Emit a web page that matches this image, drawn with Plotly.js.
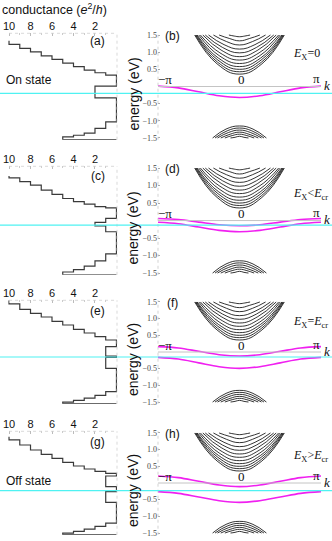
<!DOCTYPE html>
<html>
<head>
<meta charset="utf-8">
<script src="https://cdn.plot.ly/plotly-3.0.1.min.js"></script>
<style>
  html, body { margin: 0; padding: 0; background: #fff; }
  #chart { width: 332px; height: 541px; }
</style>
</head>
<body>
<div id="chart"></div>
<script>
// bulk subbands, same in every panel (energy in eV, k in units of pi)
const condBottom = [0.36, 0.43, 0.50, 0.58, 0.67, 0.77, 0.87, 0.98, 1.09, 1.21, 1.33, 1.45];
const condHalf   = [0.66, 0.71, 0.77, 0.83, 0.90, 0.98, 1.06, 1.14, 1.22, 1.31, 1.40, 1.47];
const condEdgeK  = [0.55, 0.54, 0.53, 0.52, 0.50, 0.48, 0.45, 0.42, 0.38, 0.32, 0.25, 0.13];
const valTop   = [-1.15, -1.21, -1.27, -1.33, -1.39, -1.45];
const valHalf  = [-1.24, -1.29, -1.34, -1.39, -1.43, -1.48];
const valEdgeK = [0.33, 0.30, 0.27, 0.23, 0.18, 0.11];

// edge states
const edgeK = [-1, -0.75, -0.5, -0.25, 0, 0.25, 0.5, 0.75, 1];
const edgeB  = [0.01, -0.04, -0.155, -0.27, -0.32, -0.27, -0.155, -0.04, 0.01];
const edgeD1 = [0.06, 0.03, -0.045, -0.12, -0.15, -0.12, -0.045, 0.03, 0.06];
const edgeD2 = [-0.05, -0.09, -0.185, -0.28, -0.32, -0.28, -0.185, -0.09, -0.05];
const edgeF1 = [0.16, 0.12, 0.02, -0.08, -0.12, -0.08, 0.02, 0.12, 0.16];
const edgeF2 = [-0.16, -0.21, -0.325, -0.44, -0.49, -0.44, -0.325, -0.21, -0.16];
const edgeH1 = [0.21, 0.16, 0.05, -0.06, -0.11, -0.06, 0.05, 0.16, 0.21];
const edgeH2 = [-0.26, -0.31, -0.42, -0.53, -0.58, -0.53, -0.42, -0.31, -0.26];

// Fermi level (cyan line)
const fermi = [-0.20, -0.13, -0.15, -0.23];

// conductance staircases: conductance value and the energy where that step starts
const topCond = [10, 9, 8, 7, 6, 5, 4, 3, 2, 1, 0];
const topEA = [1.33, 1.23, 1.11, 1.01, 0.89, 0.79, 0.68, 0.58, 0.48, 0.40, 0.33];
const topEC = [1.27, 1.22, 1.11, 1.01, 0.87, 0.75, 0.63, 0.54, 0.47, 0.40, 0.36];
const topEE = [1.55, 1.44, 1.28, 1.16, 1.05, 0.92, 0.81, 0.68, 0.57, 0.46, 0.36];
const topEG = [1.39, 1.29, 1.14, 0.99, 0.86, 0.74, 0.62, 0.51, 0.42, 0.35, 0.29];
const botCond = [1, 2, 3, 4, 5, 5, 0];
const botEA = [-1.03, -1.22, -1.36, -1.42, -1.47, -1.55, -1.55];
const botEC = [-0.95, -1.15, -1.30, -1.40, -1.47, -1.55, -1.55];
const botEE = [-1.19, -1.30, -1.38, -1.45, -1.50, -1.55, -1.55];
const botEG = [-1.20, -1.30, -1.38, -1.45, -1.50, -1.55, -1.55];
const gapCondA = [2, 0];          const gapEA = [0.01, -0.33];
const gapCondC = [1, 2, 1, 0];    const gapEC = [0.06, -0.05, -0.15, -0.32];
const gapCondE = [1, 0, 1, 0];    const gapEE = [0.16, -0.12, -0.16, -0.49];
const gapCondG = [1, 0, 1, 0];    const gapEG = [0.21, -0.11, -0.26, -0.58];

const panels = [
    { topE: topEA, gapC: gapCondA, gapE: gapEA, botE: botEA, edges: [edgeB], left: "(a)", right: "(b)",
      field: "<i>E</i><sub>X</sub>=0", state: "On state" },
    { topE: topEC, gapC: gapCondC, gapE: gapEC, botE: botEC, edges: [edgeD1, edgeD2], left: "(c)", right: "(d)",
      field: "<i>E</i><sub>X</sub>&lt;<i>E</i><sub>cr</sub>" },
    { topE: topEE, gapC: gapCondE, gapE: gapEE, botE: botEE, edges: [edgeF1, edgeF2], left: "(e)", right: "(f)",
      field: "<i>E</i><sub>X</sub>=<i>E</i><sub>cr</sub>" },
    { topE: topEG, gapC: gapCondG, gapE: gapEG, botE: botEG, edges: [edgeH1, edgeH2], left: "(g)", right: "(h)",
      field: "<i>E</i><sub>X</sub>&gt;<i>E</i><sub>cr</sub>", state: "Off state" },
];

const W = 332, H = 541;
const TOP = [33.3, 166.3, 300.3, 431.3];
const BOT = [139.7, 274.8, 403.7, 534.7];
const px = (x) => x / W;
const py = (y) => 1 - y / H;

const traces = [];
const layout = {
    width: W, height: H,
    margin: { l: 0, r: 0, t: 0, b: 0 },
    paper_bgcolor: "#fff",
    plot_bgcolor: "rgba(0,0,0,0)",
    showlegend: false,
    shapes: [],
    annotations: [],
};

function note(text, x, y, extra) {
    return Object.assign({
        text: text, x: px(x), y: py(y), xref: "paper", yref: "paper",
        showarrow: false, xanchor: "center", yanchor: "middle",
        font: { family: "Liberation Sans, Arial", size: 12, color: "#111" },
    }, extra || {});
}

layout.annotations.push(note("conductance (<i>e</i><sup>2</sup>/<i>h</i>)", 0, 9,
    { xanchor: "left", font: { family: "Liberation Sans, Arial", size: 12.5, color: "#111" } }));

panels.forEach((p, i) => {
    const nl = 2 * i + 1, nr = 2 * i + 2;
    const dom = [py(BOT[i]), py(TOP[i])];
    const zero = (TOP[i] + BOT[i]) / 2;

    layout["xaxis" + nl] = {
        domain: [0, px(117)], range: [10.84, -0.05], anchor: "y" + nl, side: "top",
        tickvals: [10, 8, 6, 4, 2], ticks: "inside", ticklen: 3, tickcolor: "#bbb",
        minor: { tickvals: [9, 7, 5, 3, 1], ticks: "inside", ticklen: 2, tickcolor: "#ccc" },
        showgrid: false, zeroline: false, showline: false,
        tickfont: { family: "Liberation Sans, Arial", size: 11, color: "#111" },
    };
    layout["yaxis" + nl] = { domain: dom, range: [-1.55, 1.55], anchor: "x" + nl, visible: false };
    layout["xaxis" + nr] = {
        domain: [px(158), px(321)], range: [-1, 1], anchor: "y" + nr, visible: false,
    };
    layout["yaxis" + nr] = {
        domain: dom, range: [-1.55, 1.55], anchor: "x" + nr, side: "left",
        tickvals: [1.5, 1, 0.5, -0.5, -1, -1.5],
        ticktext: ["1.5", "1.0", "0.5", "\u22120.5", "\u22121.0", "\u22121.5"],
        ticks: "inside", ticklen: 2, tickcolor: "#aaa",
        showgrid: false, zeroline: false, showline: false,
        tickfont: { family: "Liberation Serif, serif", size: 8, color: "#444" },
    };

    // staircase
    const cs = topCond.concat(p.gapC, botCond);
    const es = p.topE.concat(p.gapE, p.botE);
    traces.push({
        x: cs, y: es, xaxis: "x" + nl, yaxis: "y" + nl, type: "scatter", mode: "lines",
        line: { color: "#3a3a3a", width: 1.2, shape: "vh" }, hoverinfo: "skip",
    });

    // bulk bands
    condBottom.forEach((b, j) => {
        const K = condEdgeK[j];
        traces.push({
            x: [-K, -K / 2, 0, K / 2, K], y: [1.5, condHalf[j], b, condHalf[j], 1.5],
            xaxis: "x" + nr, yaxis: "y" + nr, type: "scatter", mode: "lines",
            line: { color: "#000", width: 0.8, shape: "spline", smoothing: 1.3 }, hoverinfo: "skip",
        });
    });
    valTop.forEach((t, j) => {
        const K = valEdgeK[j];
        traces.push({
            x: [-K, -K / 2, 0, K / 2, K], y: [-1.5, valHalf[j], t, valHalf[j], -1.5],
            xaxis: "x" + nr, yaxis: "y" + nr, type: "scatter", mode: "lines",
            line: { color: "#000", width: 0.8, shape: "spline", smoothing: 1.3 }, hoverinfo: "skip",
        });
    });

    // k axis and frames
    layout.shapes.push(
        { type: "line", xref: "x" + nr, yref: "y" + nr, x0: -1, x1: 1, y0: 0, y1: 0,
          line: { color: "#c4c4c4", width: 1 } },
        { type: "line", xref: "x" + nr + " domain", yref: "y" + nr + " domain", x0: 0, x1: 0, y0: 0, y1: 1,
          line: { color: "#c8c8c8", width: 0.8, dash: "dot" } },
        { type: "line", xref: "x" + nl, yref: "y" + nl + " domain", x0: 10, x1: -0.05, y0: 1, y1: 1,
          line: { color: "#cfcfcf", width: 0.8, dash: "dot" } },
        { type: "line", xref: "x" + nl + " domain", yref: "y" + nl + " domain", x0: 1, x1: 1, y0: 0, y1: 1,
          line: { color: "#cfcfcf", width: 0.8, dash: "dot" } },
        { type: "line", xref: "paper", yref: "y" + nr, x0: 0, x1: 1, y0: fermi[i], y1: fermi[i],
          line: { color: "#4ff2f2", width: 1.2 } }
    );

    // edge states
    p.edges.forEach((e) => {
        traces.push({
            x: edgeK, y: e, xaxis: "x" + nr, yaxis: "y" + nr, type: "scatter", mode: "lines",
            line: { color: "#f020f0", width: 1.6, shape: "spline", smoothing: 1 }, hoverinfo: "skip",
        });
    });

    const fieldY = [54, 194, 321.7, 456][i];
    const serif = (size) => ({ family: "Liberation Serif, serif", size: size, color: "#111" });
    layout.annotations.push(
        note(p.left, 97.5, [41, 176, 311, 442][i]),
        note(p.right, 172, [36, 169, 303, 434][i]),
        note("energy (eV)", 133, zero + 8, { textangle: -90,
            font: { family: "Liberation Sans, Arial", size: 14, color: "#111" } }),
        note("\u2212\u03c0", 165, zero - 7, { font: serif(13) }),
        note("0", 241, zero - 7, { font: serif(13) }),
        note("\u03c0", 316, zero - 8, { font: serif(13) }),
        note("<i>k</i>", 327, zero - 1, { font: serif(13) }),
        note(p.field, 291, fieldY, { xanchor: "left", font: serif(12) })
    );
    if (p.state) {
        layout.annotations.push(note(p.state, 4, i === 0 ? 80 : 481, { xanchor: "left" }));
    }
});

Plotly.newPlot("chart", traces, layout, { staticPlot: true, displayModeBar: false });
</script>
</body>
</html>
